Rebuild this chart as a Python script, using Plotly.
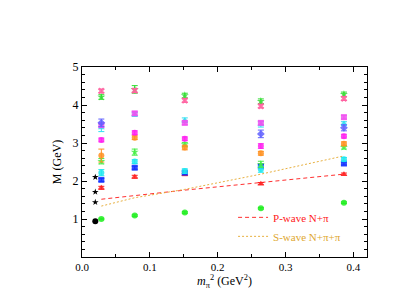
import plotly.graph_objects as go

mpi2 = [0.0285, 0.0777, 0.1515, 0.2636, 0.386]
m_phys = 0.0196

exp_ground = [0.94]
exp_excited = [1.44, 1.71, 2.10]

green_circ = [1.00, 1.09, 1.17, 1.28, 1.43]
red_tri = [1.82, 2.11, 2.17, 1.93, 2.18]
blue_sq = [2.03, 2.35, 2.22, 2.39, 2.46]
cyan_a = [2.22, 2.51, 2.26, 2.31, 2.57]
green_star = [2.52, 2.76, 2.96, 2.44, 2.89]
orange_a = [2.67, 3.14, 2.88, 2.73, 2.98]
magenta_c = [3.08, 3.27, 3.11, 2.92, 3.18]
cyan_b = [3.40, 3.75, 3.60, 3.49, 3.51]
magenta_sq = [3.47, 3.78, 3.53, 3.53, 3.68]
violet = [3.53, None, None, 3.24, 3.40]
green_star2 = [4.21, 4.41, 4.25, 4.10, 4.28]
pink_x = [4.37, 4.38, 4.12, 3.97, 4.17]

errs = {
    "green_circ": [0.02, 0.02, 0.02, 0.02, 0.02],
    "red_tri": [0.04, 0.04, 0.03, 0.03, 0.03],
    "blue_sq": [0.04, 0.04, 0.04, 0.04, 0.04],
    "cyan_a": [0.08, 0.05, 0.06, 0.08, 0.05],
    "green_star": [0.07, 0.08, 0.05, 0.08, 0.05],
    "orange_a": [0.17, 0.05, 0.06, 0.05, 0.05],
    "magenta_c": [0.05, 0.05, 0.05, 0.06, 0.05],
    "cyan_b": [0.10, 0.05, 0.06, 0.07, 0.05],
    "magenta_sq": [0.05, 0.05, 0.05, 0.05, 0.05],
    "violet": [0.10, 0, 0, 0.10, 0.08],
    "green_star2": [0.06, 0.10, 0.06, 0.06, 0.06],
    "pink_x": [0.05, 0.05, 0.05, 0.05, 0.05],
}

pwave = [1.52, 1.62, 1.76, 1.96, 2.18]
swave = [1.34, 1.56, 1.78, 2.18, 2.66]

series = [
    ("green_circ", green_circ, "#22ee22", "circle"),
    ("red_tri", red_tri, "#ff2020", "triangle-up"),
    ("blue_sq", blue_sq, "#1030ff", "square"),
    ("cyan_a", cyan_a, "#20e8f0", "circle"),
    ("green_star", green_star, "#44ee44", "star"),
    ("orange_a", orange_a, "#ff9020", "circle"),
    ("magenta_c", magenta_c, "#ff20f0", "circle"),
    ("cyan_b", cyan_b, "#30e0f0", "triangle-up"),
    ("magenta_sq", magenta_sq, "#f050f0", "square"),
    ("violet", violet, "#6060ff", "diamond"),
    ("green_star2", green_star2, "#30dd30", "star"),
    ("pink_x", pink_x, "#ff60a0", "x"),
]

fig = go.Figure()

fig.add_trace(go.Scatter(x=mpi2, y=pwave, mode="lines",
                         line=dict(color="#ff3030", dash="4px,3px", width=1),
                         name="<span style='color:#ff2020'>P-wave N+π</span>"))
fig.add_trace(go.Scatter(x=mpi2, y=swave, mode="lines",
                         line=dict(color="#e8b040", dash="2px,2px", width=1),
                         name="<span style='color:#e0a830'>S-wave N+π+π</span>"))

for key, vals, col, sym in series:
    fig.add_trace(go.Scatter(
        x=mpi2, y=vals, mode="markers",
        marker=dict(color=col, symbol=sym, size=6, opacity=0.85),
        error_y=dict(type="data", array=errs[key], color=col, thickness=1, width=3),
        showlegend=False))

fig.add_trace(go.Scatter(x=[m_phys], y=exp_ground, mode="markers",
                         marker=dict(color="black", symbol="circle", size=6),
                         showlegend=False))
fig.add_trace(go.Scatter(x=[m_phys] * len(exp_excited), y=exp_excited, mode="markers",
                         marker=dict(color="black", symbol="star", size=5),
                         showlegend=False))

serif = "Liberation Serif"
fig.update_layout(
    width=399, height=308,
    margin=dict(l=74, r=40, t=59, b=59),
    paper_bgcolor="white", plot_bgcolor="white",
    font=dict(family=serif, size=12, color="black"),
    legend=dict(x=0.53, y=0.285, xanchor="left", yanchor="top",
                bgcolor="rgba(0,0,0,0)", font=dict(family=serif, size=11),
                tracegroupgap=0, itemwidth=30),
    xaxis=dict(range=[0, 0.42], tickvals=[0, 0.1, 0.2, 0.3, 0.4],
               ticktext=["0.0", "0.1", "0.2", "0.3", "0.4"],
               showline=True, linecolor="black", linewidth=1, mirror="allticks",
               ticks="inside", ticklen=5, tickcolor="black", showgrid=False, zeroline=False,
               tickfont=dict(size=11),
               minor=dict(dtick=0.05, ticks="inside", ticklen=3, tickcolor="black"),
               title=dict(text="<i>m</i><sub>π</sub><sup>2</sup> (GeV<sup>2</sup>)",
                          font=dict(family=serif, size=12), standoff=0)),
    yaxis=dict(range=[0, 5], tickvals=[1, 2, 3, 4, 5],
               showline=True, linecolor="black", linewidth=1, mirror="allticks",
               ticks="inside", ticklen=5, tickcolor="black", showgrid=False, zeroline=False,
               tickfont=dict(size=12),
               minor=dict(dtick=0.2, ticks="inside", ticklen=3, tickcolor="black"),
               title=dict(text="M (GeV)", font=dict(family=serif, size=12), standoff=8)),
)

fig.write_html("out.html")
